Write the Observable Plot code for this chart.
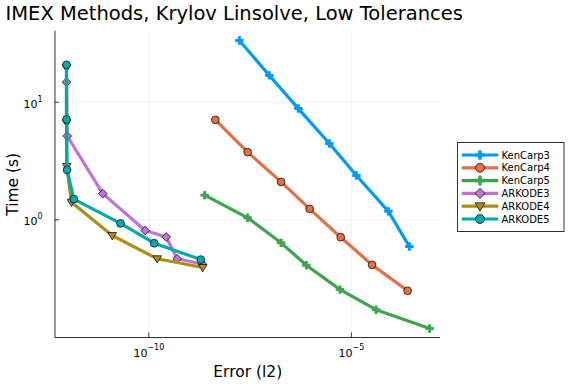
<!DOCTYPE html>
<html>
<head>
<meta charset="utf-8">
<script src="https://cdn.jsdelivr.net/npm/d3@7"></script>
<script src="https://cdn.jsdelivr.net/npm/@observablehq/plot@0.6"></script>
<style>
  html, body { margin: 0; padding: 0; background: #fff; }
  #chart svg { display: block; }
</style>
</head>
<body>
<div id="chart"></div>
<script>
// ---- data ----
const titleText = "IMEX Methods, Krylov Linsolve, Low Tolerances";
const xLabel = "Error (l2)";
const yLabel = "Time (s)";
const seriesNames = ["KenCarp3", "KenCarp4", "KenCarp5", "ARKODE3", "ARKODE4", "ARKODE5"];
const seriesColors = ["#009AFA", "#E36F47", "#3EA44E", "#C371D2", "#AC8E18", "#00A9AD"];
const seriesMarkers = ["cross", "circle", "cross", "diamond", "dtriangle", "circle"];

const kenCarp3Err  = [1.72e-8, 9.44e-8, 4.91e-7, 2.86e-6, 1.33e-5, 8.2e-5, 2.70e-4];
const kenCarp3Time = [33.5, 16.9, 8.83, 4.46, 2.38, 1.18, 0.593];
const kenCarp4Err  = [4.39e-9, 2.75e-8, 1.84e-7, 9.33e-7, 5.45e-6, 3.24e-5, 2.45e-4];
const kenCarp4Time = [7.08, 3.76, 2.10, 1.24, 0.711, 0.414, 0.249];
const kenCarp5Err  = [2.39e-9, 2.75e-8, 1.84e-7, 7.74e-7, 5.26e-6, 4.07e-5, 8.57e-4];
const kenCarp5Time = [1.62, 1.04, 0.637, 0.411, 0.255, 0.172, 0.119];
const arkode3Err   = [9.29e-13, 9.66e-13, 7.31e-12, 8.15e-11, 2.69e-10, 5.02e-10, 2.08e-9];
const arkode3Time  = [14.8, 5.16, 1.67, 0.811, 0.714, 0.466, 0.421];
const arkode4Err   = [9.29e-13, 9.29e-13, 9.44e-13, 1.23e-12, 1.25e-11, 1.61e-10, 2.15e-9];
const arkode4Time  = [19.7, 6.71, 2.84, 1.41, 0.735, 0.466, 0.393];
const arkode5Err   = [9.29e-13, 9.29e-13, 9.6e-13, 1.41e-12, 2.0e-11, 1.36e-10, 1.92e-9];
const arkode5Time  = [20.8, 7.13, 2.66, 1.50, 0.931, 0.632, 0.459];

const xTicks = [1e-10, 1e-5];
const xTickExp = ["\u221210", "\u22125"];
const yTicks = [1, 10];
const yTickExp = ["0", "1"];

const errs = [kenCarp3Err, kenCarp4Err, kenCarp5Err, arkode3Err, arkode4Err, arkode5Err];
const times = [kenCarp3Time, kenCarp4Time, kenCarp5Time, arkode3Time, arkode4Time, arkode5Time];

// ---- symbols ----
const plusSym = {draw(ctx, size) {
  const a = Math.sqrt(size / Math.PI), t = a * 0.36;
  ctx.moveTo(-a, -t); ctx.lineTo(-t, -t); ctx.lineTo(-t, -a); ctx.lineTo(t, -a);
  ctx.lineTo(t, -t); ctx.lineTo(a, -t); ctx.lineTo(a, t); ctx.lineTo(t, t);
  ctx.lineTo(t, a); ctx.lineTo(-t, a); ctx.lineTo(-t, t); ctx.lineTo(-a, t); ctx.closePath();
}};
const diamondSym = {draw(ctx, size) {
  const a = Math.sqrt(size / Math.PI);
  ctx.moveTo(0, -a); ctx.lineTo(a, 0); ctx.lineTo(0, a); ctx.lineTo(-a, 0); ctx.closePath();
}};
const dtriSym = {draw(ctx, size) {
  const a = Math.sqrt(size / Math.PI);
  ctx.moveTo(-a, -a * 0.7); ctx.lineTo(a, -a * 0.7); ctx.lineTo(0, a); ctx.closePath();
}};
const circleSym = {draw(ctx, size) {
  const r = Math.sqrt(size / Math.PI);
  ctx.moveTo(r, 0); ctx.arc(0, 0, r, 0, 2 * Math.PI);
}};
const symMap = {cross: plusSym, circle: circleSym, diamond: diamondSym, dtriangle: dtriSym};
const rMap = {cross: 4.2, circle: 3.9, diamond: 4.4, dtriangle: 4.3};

// ---- layout ----
const W = 576, H = 384;
const mL = 54.5, mR = 136, mT = 30.7, mB = 47;
const xDomain = [10 ** -12.316, 10 ** -2.80];
const yDomain = [10 ** -1.001, 10 ** 1.604];
const plotW = W - mL - mR, plotH = H - mT - mB;
const font = "DejaVu Sans";

const seriesMarks = [];
seriesNames.forEach((name, s) => {
  const rows = errs[s].map((e, i) => ({err: e, time: times[s][i], series: name}));
  const m = seriesMarkers[s];
  seriesMarks.push(Plot.line(rows, {x: "err", y: "time", stroke: seriesColors[s], strokeWidth: 3.2, strokeLinejoin: "round", strokeLinecap: "butt"}));
  seriesMarks.push(Plot.dot(rows, {
    x: "err", y: "time", symbol: symMap[m], r: rMap[m], fill: seriesColors[s],
    stroke: m === "cross" ? "none" : "#000", strokeWidth: 0.7
  }));
});

const chart = Plot.plot({
  width: W, height: H,
  marginLeft: mL, marginRight: mR, marginTop: mT, marginBottom: mB,
  style: {fontFamily: font, background: "#fff", overflow: "visible"},
  x: {type: "log", domain: xDomain, axis: null},
  y: {type: "log", domain: yDomain, axis: null},
  marks: [
    Plot.gridX(xTicks, {stroke: "#000", strokeOpacity: 0.1, strokeWidth: 0.6}),
    Plot.gridY(yTicks, {stroke: "#000", strokeOpacity: 0.1, strokeWidth: 0.6}),
    Plot.tickX(xTicks, {x: d => d, stroke: "#333", strokeWidth: 1, insetTop: plotH - 4.5}),
    Plot.tickY(yTicks, {y: d => d, stroke: "#333", strokeWidth: 1, insetRight: plotW - 4.5}),
    Plot.ruleX([xDomain[0]], {stroke: "#333", strokeWidth: 1}),
    Plot.ruleY([yDomain[0]], {stroke: "#333", strokeWidth: 1}),
    Plot.text(xTicks, {x: d => d, text: () => "10", frameAnchor: "bottom", dy: 19, lineAnchor: "bottom", textAnchor: "middle", fontSize: 11, fill: "#000", ariaDescription: "xticklabels"}),
    Plot.text(yTicks, {y: d => d, text: () => "10", frameAnchor: "left", dx: -12.5, dy: 5.6, lineAnchor: "bottom", textAnchor: "end", fontSize: 11, fill: "#000", ariaDescription: "yticklabels"}),
    ...seriesMarks,
    Plot.text([titleText], {text: d => d, frameAnchor: "top-left", dx: 5 - mL, dy: 19 - mT, lineAnchor: "bottom", textAnchor: "start", fontSize: 19.5, fill: "#000"}),
    Plot.text([xLabel], {text: d => d, frameAnchor: "bottom", dy: 39.7, lineAnchor: "bottom", textAnchor: "middle", fontSize: 15.5, fill: "#000"}),
    Plot.text([yLabel], {text: d => d, frameAnchor: "left", dx: 12.5 - mL, rotate: -90, lineAnchor: "middle", textAnchor: "middle", fontSize: 15.5, fill: "#000"})
  ]
});

// superscript exponents on tick labels
const svg = d3.select(chart);
svg.selectAll('g[aria-description="xticklabels"] text').each(function(d, i) {
  d3.select(this).append("tspan").attr("font-size", 8).attr("dy", -7).text(xTickExp[i]);
});
svg.selectAll('g[aria-description="yticklabels"] text').each(function(d, i) {
  d3.select(this).append("tspan").attr("font-size", 8).attr("dy", -6).text(yTickExp[i]);
});

// legend
const lg = svg.append("g").attr("font-family", font).attr("text-anchor", "start");
lg.append("rect").attr("x", 457.5).attr("y", 142.5).attr("width", 106.5).attr("height", 89)
  .attr("fill", "#fff").attr("stroke", "#333").attr("stroke-width", 1);
seriesNames.forEach((name, s) => {
  const yy = 155 + s * 12.8;
  const m = seriesMarkers[s];
  lg.append("line").attr("x1", 461.7).attr("x2", 498.3).attr("y1", yy).attr("y2", yy)
    .attr("stroke", seriesColors[s]).attr("stroke-width", 3.2);
  const r = rMap[m] * 1.15;
  lg.append("path").attr("transform", `translate(480,${yy})`)
    .attr("d", d3.symbol(symMap[m], Math.PI * r * r)())
    .attr("fill", seriesColors[s]).attr("stroke", m === "cross" ? "none" : "#000").attr("stroke-width", 0.7);
  lg.append("text").attr("x", 501.5).attr("y", yy + 3.6).attr("font-size", 10).attr("fill", "#000")
    .attr("text-anchor", "start").text(name);
});

document.getElementById("chart").appendChild(chart);
</script>
</body>
</html>
